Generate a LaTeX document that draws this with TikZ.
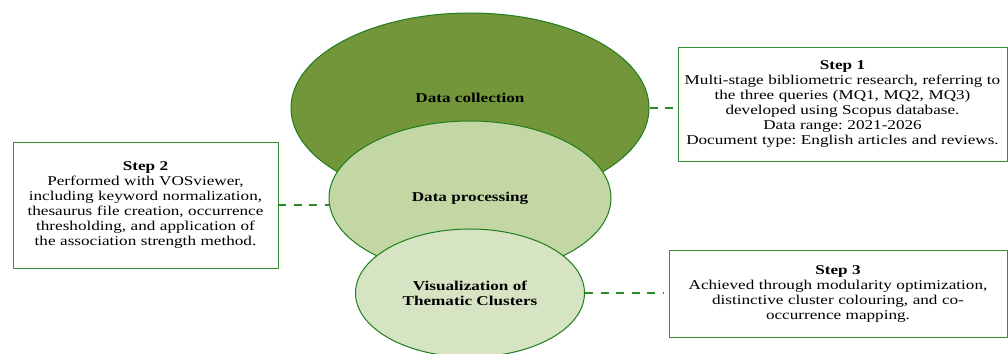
\documentclass[tikz,border=0pt]{standalone}
\usepackage{fontspec}
\setmainfont{Liberation Serif}[FakeStretch=1.27]
\usetikzlibrary{shapes.geometric,positioning}
\definecolor{collgreen}{HTML}{73963A}
\definecolor{procgreen}{HTML}{C3D7A5}
\definecolor{visgreen}{HTML}{D7E4C4}
\definecolor{ovalline}{HTML}{1E7D1E}
\definecolor{boxline}{HTML}{2F8F2F}
\definecolor{linkgreen}{HTML}{2A8A2A}
\frenchspacing
\begin{document}
\begin{tikzpicture}[x=1pt,y=-1pt,line join=round,font=\fontsize{13.5}{15}\selectfont]
	\tikzset{oval/.style={ellipse,draw=ovalline,line width=1pt,inner sep=0pt,align=center,font=\fontsize{13.5}{15}\selectfont\bfseries},
		stepbox/.style={draw=boxline,line width=0.8pt,align=center,inner sep=0pt},
		link/.style={draw=linkgreen,line width=2pt,dash pattern=on 8pt off 7.5pt}}
	\useasboundingbox (0,0) rectangle (1008,353);
	% the three stages
	\node[oval,fill=collgreen,minimum width=358pt,minimum height=190pt] (coll) at (470,108) {};
	\node[font=\fontsize{13.5}{15}\selectfont\bfseries] (collname) at (470,98) {Data collection};
	\node[oval,fill=procgreen,minimum width=282pt,minimum height=154pt] (proc) at (470,198) {Data processing};
	\node[oval,fill=visgreen,minimum width=229pt,minimum height=128pt] (vis) at (470,293) {Visualization of\\Thematic Clusters};
	% step boxes
	\node[stepbox,text width=329pt,minimum height=114pt] (step1) at (842.5,104) {\textbf{Step 1}\\Multi-stage bibliometric research, referring to\\the three queries (MQ1, MQ2, MQ3)\\developed using Scopus database.\\Data range: 2021-2026\\Document type: English articles and reviews.};
	\node[stepbox,text width=265pt,minimum height=126pt] (step2) at (145.5,205) {\textbf{Step 2}\\Performed with VOSviewer,\\including keyword normalization,\\thesaurus file creation, occurrence\\thresholding, and application of\\the association strength method.};
	\node[stepbox,text width=338pt,minimum height=87pt] (step3) at (838,293.5) {\textbf{Step 3}\\Achieved through modularity optimization,\\distinctive cluster colouring, and co-\\occurrence mapping.};
	\draw[link] (coll.east) -- (coll.east -| step1.west);
	\draw[link] (step2.east) -- (step2.east -| proc.west);
	\draw[link] (vis.east) -- ([xshift=-6pt]vis.east -| step3.west);
\end{tikzpicture}
\end{document}
